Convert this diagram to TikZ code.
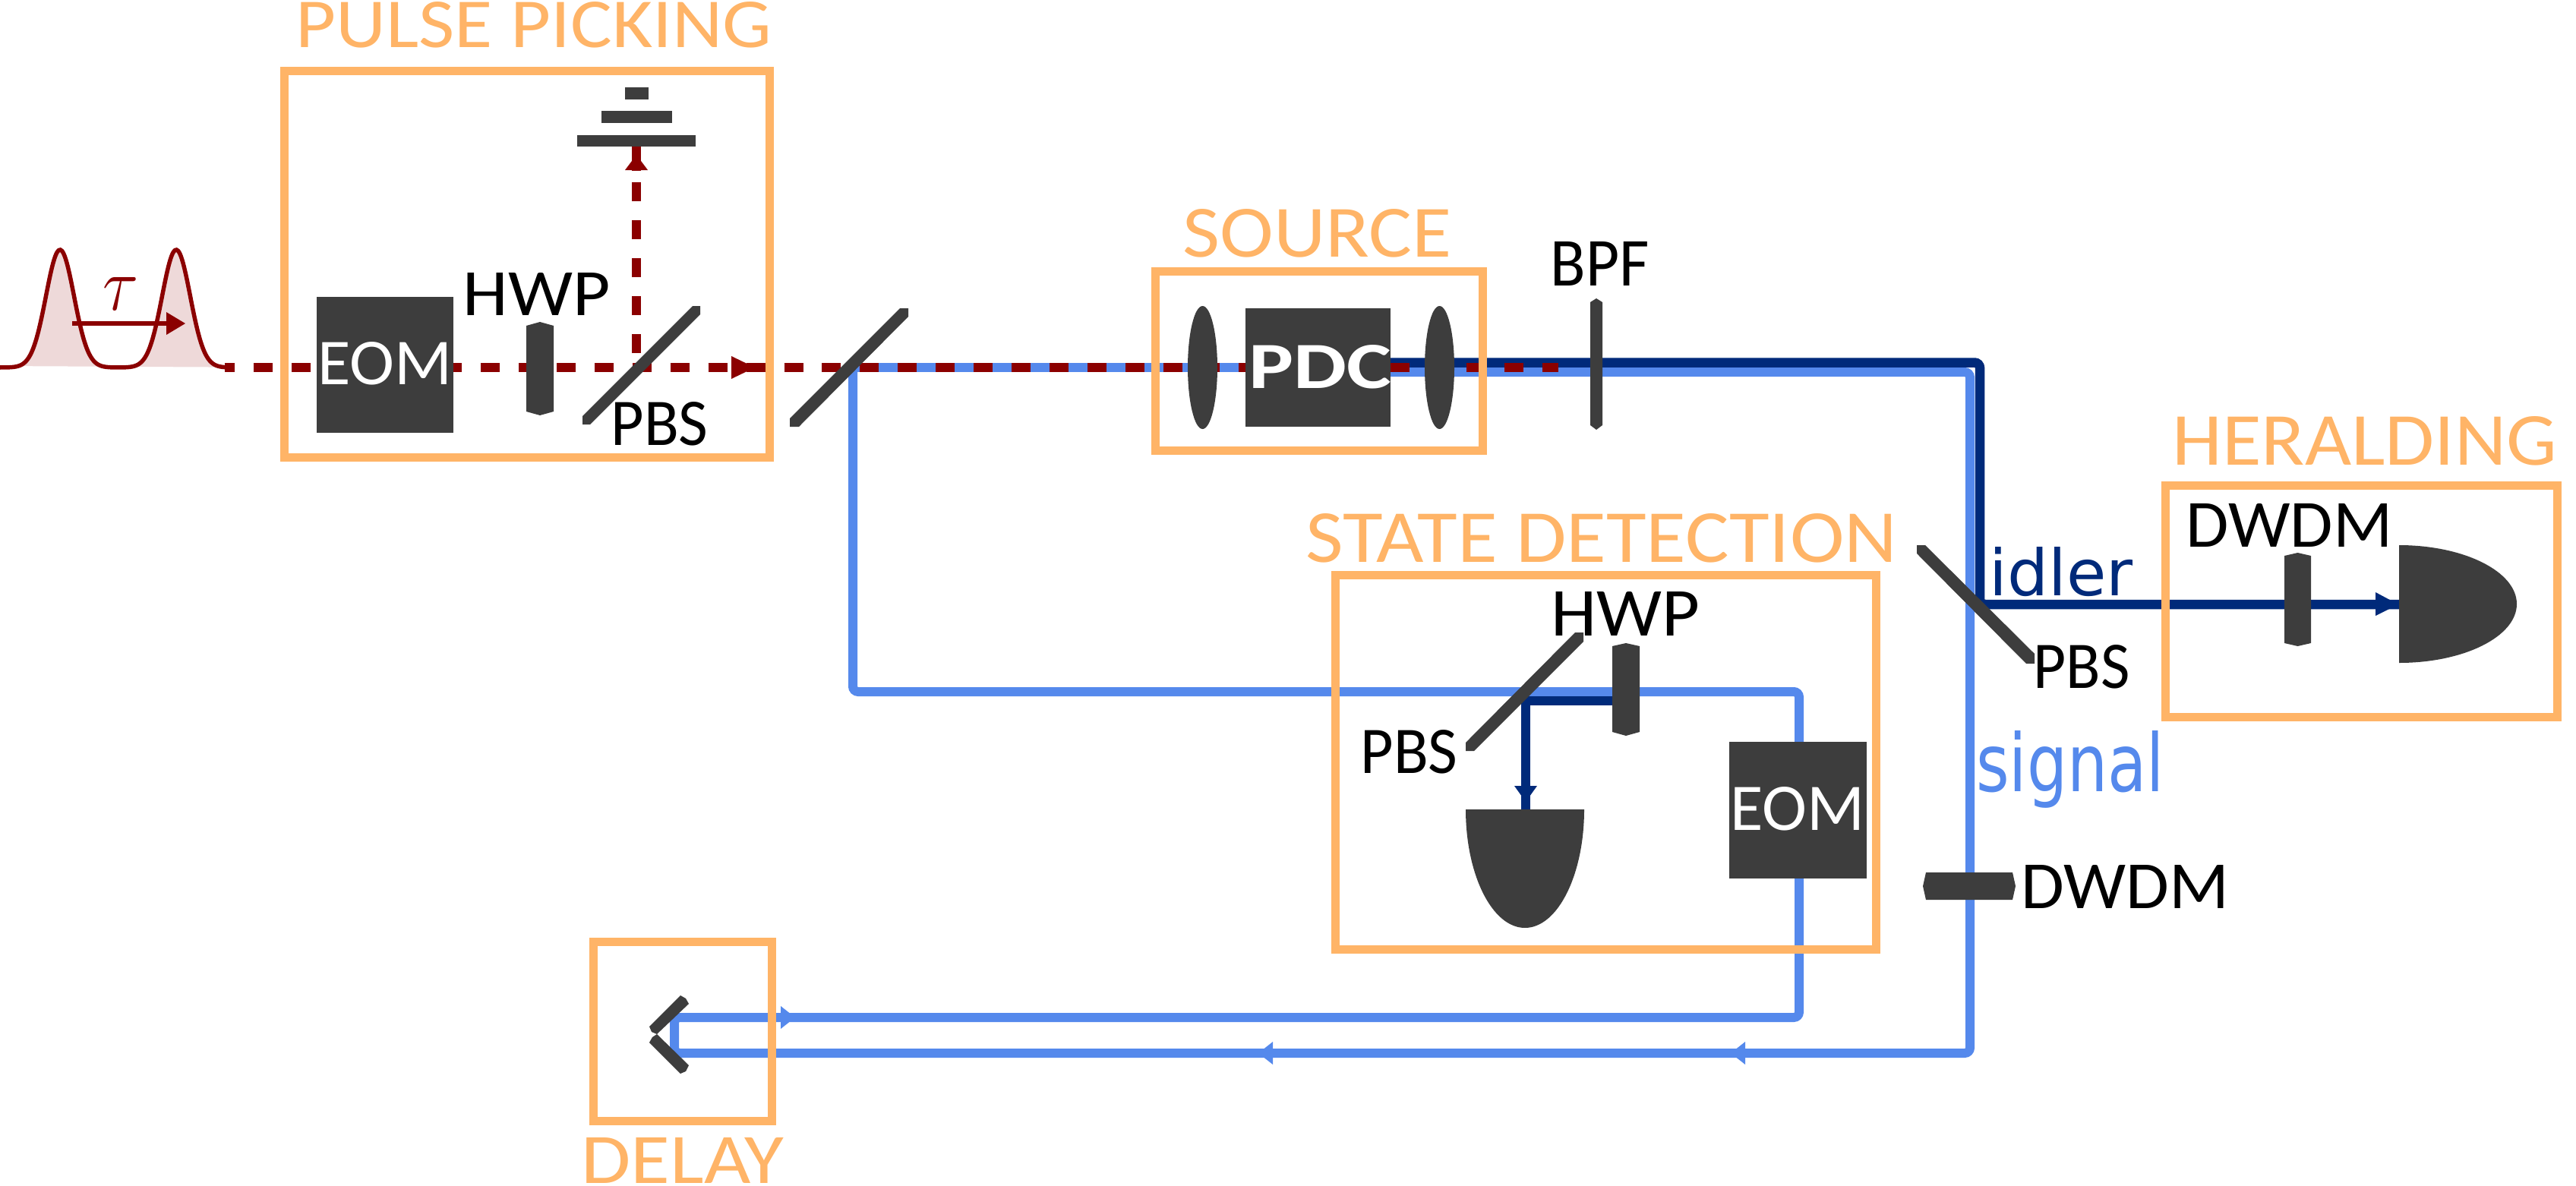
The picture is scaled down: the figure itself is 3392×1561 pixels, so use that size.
\documentclass[tikz,border=0pt]{standalone}
\usepackage{graphicx}
\usepackage{fontspec}
\setmainfont{Carlito}
\newfontfamily\djv{DejaVu Sans}
\definecolor{boxor}{HTML}{FFB467}
\definecolor{gdark}{HTML}{3D3D3D}
\definecolor{redb}{HTML}{8B0000}
\definecolor{sigb}{HTML}{5589EC}
\definecolor{idlb}{HTML}{002A7A}
\newcommand{\fit}[3]{\resizebox{#1pt}{#2pt}{\fontsize{100}{100}\selectfont #3}}
\tikzset{
  x=1pt,y=-1pt,
  orbox/.style={draw=boxor,line width=11pt,fill=none,inner sep=0pt,rectangle},
  graybox/.style={fill=gdark,inner sep=0pt,rectangle},
  lens/.style={fill=gdark,inner sep=0pt,ellipse},
  part/.style={fill=gdark,draw=none},
  txt/.style={inner sep=0pt,text=black},
  title/.style={inner sep=0pt,text=boxor},
  onbox/.style={inner sep=0pt,text=white},
  redbeam/.style={draw=redb,line width=12pt,dash pattern=on 25pt off 24.9pt},
  sigbeam/.style={draw=sigb,line width=12pt,rounded corners=7pt},
  idlbeam/.style={draw=idlb,line width=12.5pt,rounded corners=7pt},
}
\usetikzlibrary{shapes.geometric}
\begin{document}
\begin{tikzpicture}
\useasboundingbox (0,0) rectangle (3392,1561);
% key points
\coordinate (start) at (296,484);
\coordinate (pbsA) at (838,484);
\coordinate (bsB) at (1123,484);
\coordinate (pdcL) at (1640,484);
\coordinate (pdcR) at (1831,490);
\coordinate (pdcRi) at (1831,477.5);
\coordinate (redEnd) at (2052,484);
\coordinate (sigC) at (2594,490);
\coordinate (sigD) at (2594,1387);
\coordinate (dlA) at (888,1387);
\coordinate (dlB) at (888,1340);
\coordinate (eomC) at (2369,1340);
\coordinate (eomD) at (2369,911);
\coordinate (bsC) at (1123,911);
\coordinate (idlC) at (2607,477.5);
\coordinate (idlD) at (2607,796);
\coordinate (detH) at (3159,796);
\coordinate (pbsS) at (2009,923);
\coordinate (hwpS) at (2135,923);
\coordinate (detS) at (2009,1066);
\coordinate (dumpP) at (838,193);
% pulses
\fill[redb,opacity=.15] plot[domain=24:296,samples=140,smooth] (\x,{484-155*(exp(-0.5*((\x-79)/18.5)^2)+exp(-0.5*((\x-232)/18.5)^2))}) -- cycle;
\draw[redb,line width=5.5pt] plot[domain=0:296,samples=150,smooth] (\x,{484-155*(exp(-0.5*((\x-79)/18.5)^2)+exp(-0.5*((\x-232)/18.5)^2))});
\draw[redb,line width=6.5pt] (95,426) -- (220,426);
\fill[redb] (219,411) -- (244,426) -- (219,441) -- cycle;
\node[inner sep=0pt,text=redb] (tau) at (159,387) {\fit{47}{43}{$\tau$}};
% beams
\draw[sigbeam] (bsB) -- (pdcL);
\draw[sigbeam] (pdcR) -- (sigC) -- (sigD) -- (dlA) -- (dlB) -- (eomC) -- (eomD) -- (bsC) -- (bsB);
\draw[idlbeam] (pdcRi) -- (idlC) -- (idlD) -- (detH);
\draw[idlb,line width=12pt] (pbsS) -- (hwpS);
\draw[idlb,line width=12pt] (2009,917) -- (detS);
\fill[idlb] (3128,780) -- (3158,796) -- (3128,811) -- cycle;
\fill[idlb] (1994,1035) -- (2009,1056) -- (2024,1035) -- cycle;
\fill[sigb] (1028,1325) -- (1047,1340) -- (1028,1355) -- cycle;
\fill[sigb] (1676,1372) -- (1657,1387) -- (1676,1402) -- cycle;
\fill[sigb] (2298,1372) -- (2279,1387) -- (2298,1402) -- cycle;
\draw[redbeam,dash phase=12pt] (start) -- (redEnd);
\draw[redbeam,dash pattern=on 25pt off 25pt] (838,465) -- (838,235);
\draw[redb,line width=12pt] (838,225) -- (dumpP);
\fill[redb] (823,224) -- (838,204) -- (853,224) -- cycle;
\fill[redb] (963,469) -- (994,484) -- (963,499) -- cycle;
% group boxes
\node[orbox,minimum width=639pt,minimum height=509pt] (pulsebox) at (693.5,347.5) {};
\node[orbox,minimum width=431pt,minimum height=236pt] (sourcebox) at (1737,475.5) {};
\node[orbox,minimum width=711.5pt,minimum height=493pt] (statebox) at (2114.25,1004) {};
\node[orbox,minimum width=516pt,minimum height=305pt] (heraldbox) at (3109.5,792) {};
\node[orbox,minimum width=235pt,minimum height=236pt] (delaybox) at (899,1358.5) {};
% titles
\node[title] (tPulse) at (703,33) {\fit{627}{60}{PULSE PICKING}};
\node[title] (tSource) at (1734.5,307.5) {\fit{354}{63}{SOURCE}};
\node[title] (tState) at (2109,709) {\fit{779}{64}{STATE DETECTION}};
\node[title] (tHerald) at (3114,581) {\fit{507}{64}{HERALDING}};
\node[title] (tDelay) at (899,1528.5) {\fit{267}{60}{DELAY}};
% solid components
\node[graybox,minimum width=180pt,minimum height=179pt] (eomA) at (507,480.5) {};
\node[onbox] (eomAt) at (507,479) {\fit{177}{56}{EOM}};
\node[graybox,minimum width=181pt,minimum height=180pt] (eomB) at (2367.5,1067) {};
\node[onbox] (eomBt) at (2367,1065.5) {\fit{177}{57}{EOM}};
\node[graybox,minimum width=191pt,minimum height=156pt] (pdc) at (1735.5,484) {};
\node[onbox] (pdct) at (1738.5,483.5) {\fit{188}{57}{\bfseries PDC}};
\node[lens,minimum width=39pt,minimum height=162pt] (lensA) at (1583.5,484) {};
\node[lens,minimum width=39pt,minimum height=162pt] (lensB) at (1895.5,484) {};
% beam dump
\node[graybox,minimum width=156pt,minimum height=15pt] (dumpA) at (838,185.5) {};
\node[graybox,minimum width=93pt,minimum height=16pt] (dumpB) at (838,154) {};
\node[graybox,minimum width=31pt,minimum height=16pt] (dumpC) at (838,123) {};
% plates
\fill[part] (711,424) -- (729,429) -- (729,542) -- (711,547) -- (693,542) -- (693,429) -- cycle;
\fill[part] (2141,847) -- (2159,851) -- (2159,964) -- (2141,969) -- (2123,964) -- (2123,851) -- cycle;
\fill[part] (3025.5,728) -- (3043,732) -- (3043,847) -- (3025.5,851) -- (3008,847) -- (3008,732) -- cycle;
\fill[part] (2102,393) -- (2110,398) -- (2110,560) -- (2102,566) -- (2094,560) -- (2094,398) -- cycle;
\fill[part] (2536,1149) -- (2650,1149) -- (2654,1167) -- (2650,1185) -- (2536,1185) -- (2532,1167) -- cycle;
% splitters
\fill[part] (912,403) -- (922,403) -- (922,414) -- (777,559) -- (767,559) -- (767,548) -- cycle;
\fill[part] (1185,406) -- (1196,406) -- (1196,417) -- (1052,562) -- (1040,562) -- (1040,551) -- cycle;
\fill[part] (2074,833) -- (2085,833) -- (2085,845) -- (1941,989) -- (1930,989) -- (1930,978) -- cycle;
\fill[part] (2524,718) -- (2535,718) -- (2679,861) -- (2679,874) -- (2668,874) -- (2524,729) -- cycle;
% detectors
\fill[part] (1930,1066) -- (2086,1066) arc[start angle=0,end angle=180,x radius=78,y radius=156] -- cycle;
\fill[part] (3159,718) arc[start angle=90,end angle=-90,x radius=155,y radius=-77.5] -- cycle;
% delay mirrors
\fill[part] (896,1311) -- (903,1315) -- (907,1322) -- (865,1362) -- (858,1359) -- (855,1352) -- cycle;
\fill[part] (865,1362) -- (859,1366) -- (855,1373) -- (896,1414) -- (903,1411) -- (907,1403) -- cycle;
% labels
\node[txt] (hwpA) at (706.5,387) {\fit{194}{56}{HWP}};
\node[txt] (pbsAt) at (868.5,558.5) {\fit{128}{57}{PBS}};
\node[txt] (bpf) at (2106.5,347) {\fit{130}{58}{BPF}};
\node[txt] (hwpB) at (2140.5,808) {\fit{196}{58}{HWP}};
\node[txt] (pbsBt) at (1855.5,990) {\fit{128}{57}{PBS}};
\node[txt] (pbsCt) at (2741,878.5) {\fit{127}{57}{PBS}};
\node[txt] (dwdmA) at (3014.5,691.5) {\fit{272}{57}{DWDM}};
\node[txt] (dwdmB) at (2798.5,1167.5) {\fit{274}{57}{DWDM}};
\node[inner sep=0pt,text=idlb] (idler) at (2714,753) {\fit{189}{64}{\djv idler}};
\node[inner sep=0pt,text=sigb] (signal) at (2726,1013) {\fit{248}{80}{\djv signal}};
\end{tikzpicture}
\end{document}
